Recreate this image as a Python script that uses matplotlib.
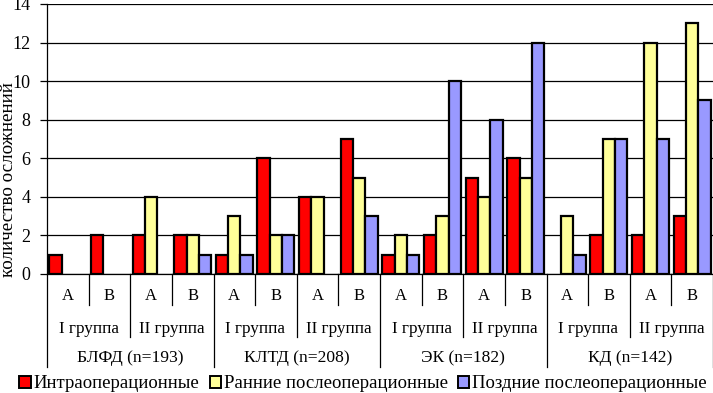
import matplotlib
matplotlib.use("Agg")
import matplotlib.pyplot as plt
from matplotlib.patches import Patch
import numpy as np

plt.rcParams['font.family'] = ['Liberation Serif', 'DejaVu Serif']

subgroups = ["А", "В"] * 8
groups = ["I группа", "II группа"] * 4
methods = ["БЛФД (n=193)", "КЛТД (n=208)", "ЭК (n=182)", "КД (n=142)"]

intra = [1, 2, 2, 2, 1, 6, 4, 7, 1, 2, 5, 6, 0, 2, 2, 3]
early = [0, 0, 4, 2, 3, 2, 4, 5, 2, 3, 4, 5, 3, 7, 12, 13]
late = [0, 0, 0, 1, 1, 2, 0, 3, 1, 10, 8, 12, 1, 7, 7, 9]

series_names = ["Интраоперационные", "Ранние послеоперационные", "Поздние послеоперационные"]
colors = ["#FF0000", "#FFFF99", "#9999FF"]

W, H = 713, 393
fig = plt.figure(figsize=(W / 100, H / 100), dpi=100)
ax = fig.add_axes([47 / W, (H - 274) / H, (713 - 47) / W, 270 / H])

n = len(intra)
x = np.arange(n)
bw = 0.296
for j, (vals, c) in enumerate(zip([intra, early, late], colors)):
    vals = np.array(vals)
    m = vals > 0
    ax.bar(x[m] + (j - 1) * bw, vals[m], width=bw, color=c, edgecolor="black",
           linewidth=1.6, zorder=3)

ax.set_xlim(-0.5, n - 0.5)
ax.set_ylim(0, 14)
ax.set_yticks(np.arange(0, 15, 2))
ax.yaxis.grid(True, color="black", linewidth=0.9, zorder=0)
ax.set_axisbelow(True)
ax.set_xticks([])
for s in ["top", "right"]:
    ax.spines[s].set_visible(False)
ax.spines["left"].set_linewidth(0.9)
ax.spines["bottom"].set_linewidth(0.9)
ax.tick_params(axis="y", length=5, width=0.9, pad=7, labelsize=13)

AH = 270.0
def fy(px):
    return -px / AH

# multi-level category axis
lk = dict(color="black", linewidth=0.9, clip_on=False, transform=ax.get_xaxis_transform())
for b in range(n + 1):
    xb = b - 0.5
    if b % 4 == 0:
        depth = 93
    elif b % 2 == 0:
        depth = 63
    else:
        depth = 31
    ax.plot([xb, xb], [0, fy(depth)], **lk)

tk = dict(transform=ax.get_xaxis_transform(), ha="center", va="baseline")
for i, s in enumerate(subgroups):
    ax.text(i, fy(26), s, fontsize=12, **tk)
for g, s in enumerate(groups):
    ax.text(2 * g + 0.5, fy(59), s, fontsize=12.3, **tk)
for k, s in enumerate(methods):
    ax.text(4 * k + 1.5, fy(88), s, fontsize=12.6, **tk)

fig.text(9 / W, (H - 180) / H, "количество осложнений", rotation=90,
         ha="center", va="center", fontsize=13.7)

handles = [Patch(facecolor=c, edgecolor="black", linewidth=1.4) for c in colors]
fig.legend(handles, series_names, loc="center", bbox_to_anchor=(363 / W, (H - 384) / H),
           ncol=3, frameon=False, fontsize=13.5, handlelength=0.6, handleheight=0.6,
           handletextpad=0.15, columnspacing=0.55, borderpad=0, borderaxespad=0)

fig.savefig("out.png", dpi=100)
